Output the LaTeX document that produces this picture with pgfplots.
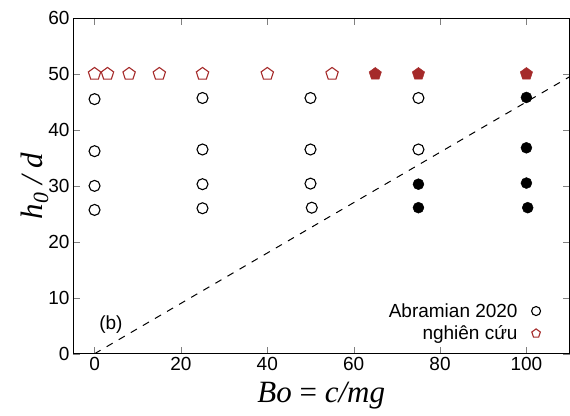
\documentclass[border=0pt]{standalone}
\usepackage{fontspec}
\setmainfont{Liberation Sans}
\newfontfamily\lserif{Liberation Serif}
\usepackage{pgfplots}
\pgfplotsset{compat=1.18}
\definecolor{brick}{RGB}{165,42,42}

\begin{document}
\begin{tikzpicture}
\begin{axis}[
    scale only axis, width=497pt, height=336pt,
    xmin=-5, xmax=110, ymin=0, ymax=60,
    xtick={0,20,40,60,80,100}, ytick={0,10,20,30,40,50,60},
    tick align=inside, major tick length=7pt,
    tick label style={font=\fontsize{19}{21}\selectfont},
    /pgf/number format/assume math mode=true,
    axis line style={line width=0.8pt},
    xlabel={\lserif\fontsize{31}{33}\selectfont\itshape Bo {\upshape =} c/mg},
    ylabel={\lserif\fontsize{31}{33}\selectfont\itshape h\textsubscript{0} / d},
    xlabel style={yshift=-5pt},
    ylabel style={yshift=-7pt},
    legend plot pos=right,
    legend cell align=right,
    legend image post style={mark size=4.5pt},
    legend style={draw=none, fill=none, font=\fontsize{19}{21}\selectfont,
        at={(rel axis cs:0.948,0.025)}, anchor=south east,
        row sep=3pt, column sep=12pt},
]
% Abramian 2020, open
\addplot[only marks, mark=o, mark size=5.5pt, line width=1.1pt, black]
  coordinates {(0,45.5) (0,36.2) (0,30.0) (0,25.7)
               (25,45.7) (25,36.5) (25,30.3) (25,26.0)
               (50,45.7) (50,36.5) (50,30.4) (50.3,26.1)
               (75,45.7) (75,36.5)};
\addlegendentry{Abramian 2020}
% nghien cuu, open
\addplot[only marks, mark=pentagon, mark size=6.5pt, line width=1.1pt, brick]
  coordinates {(0,50) (3,50) (8,50) (15,50) (25,50) (40,50) (55,50)};
\addlegendentry{nghiên cứu}
% filled ones
\addplot[only marks, mark=*, mark size=5.5pt, black, forget plot]
  coordinates {(75,30.3) (75,26.1) (100,45.8) (100,36.8) (100,30.5) (100.3,26.1)};
\addplot[only marks, mark=pentagon*, mark size=6.5pt, brick, forget plot]
  coordinates {(65,50) (75,50) (100,50)};
% dashed line
\addplot[black, line width=1pt, dash pattern=on 7pt off 7pt, forget plot]
  coordinates {(0,0) (110,49.5)};
\node[font=\fontsize{19}{21}\selectfont] at (axis cs:3.8,5.2) {(b)};
\end{axis}
\path (current axis.south west) ++(-73pt,-62pt);
\path (current axis.north east) ++(0pt,18pt);
\end{tikzpicture}
\end{document}
